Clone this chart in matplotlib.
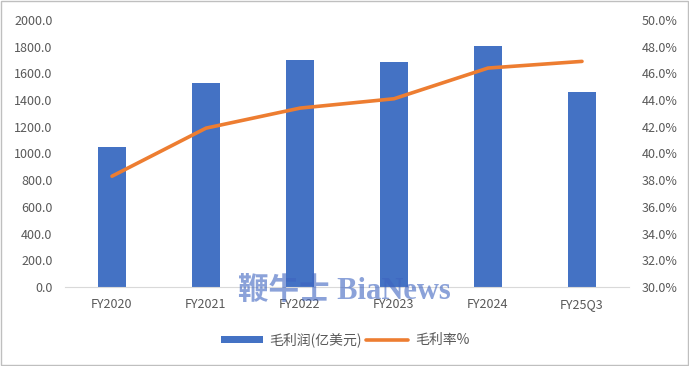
import matplotlib
matplotlib.use("Agg")
import matplotlib.pyplot as plt
from matplotlib.patches import Rectangle

plt.rcParams['font.family'] = ['Noto Sans CJK SC', 'DejaVu Sans']

categories = ["FY2020", "FY2021", "FY2022", "FY2023", "FY2024", "FY25Q3"]
gross_profit = [1045, 1525, 1701, 1687, 1806, 1463]
gross_margin = [38.3, 41.9, 43.4, 44.1, 46.4, 46.9]
left_ticks = [0, 200, 400, 600, 800, 1000, 1200, 1400, 1600, 1800, 2000]
right_ticks = [30, 32, 34, 36, 38, 40, 42, 44, 46, 48, 50]

bar_color = "#4472C4"
line_color = "#ED7D31"
text_color = "#595959"

fig = plt.figure(figsize=(6.89, 3.66), dpi=100)
ax = fig.add_axes([65/689, 1-287/366, (629-65)/689, (287-20)/366])
x = list(range(len(categories)))
ax.bar(x, gross_profit, width=0.29, color=bar_color, label="毛利润(亿美元)", zorder=2)
ax.set_xlim(-0.5, len(categories)-0.5)
ax.set_ylim(0, 2000)
ax.set_yticks(left_ticks)
ax.set_yticklabels([f"{v:.1f}" for v in left_ticks])
ax.set_xticks(x)
ax.set_xticklabels(categories)
for s in ["top", "right", "left"]:
    ax.spines[s].set_visible(False)
ax.spines["bottom"].set_color("#D9D9D9")
ax.tick_params(axis="both", length=0, colors=text_color, labelsize=9)
ax.tick_params(axis="x", pad=8)
ax.tick_params(axis="y", pad=9)

ax2 = ax.twinx()
ax2.plot(x, gross_margin, color=line_color, linewidth=2.6, label="毛利率%", zorder=3,
         solid_capstyle="round", solid_joinstyle="round")
ax2.set_ylim(30, 50)
ax2.set_yticks(right_ticks)
ax2.set_yticklabels([f"{v:.1f}%" for v in right_ticks])
for s in ["top", "right", "left", "bottom"]:
    ax2.spines[s].set_visible(False)
ax2.tick_params(axis="y", length=0, colors=text_color, labelsize=9, pad=9)

h1, l1 = ax.get_legend_handles_labels()
h2, l2 = ax2.get_legend_handles_labels()
fig.legend(h1 + h2, l1 + l2, loc="center", bbox_to_anchor=(345/689, 1-340/366), ncol=2,
           frameon=False, fontsize=10, labelcolor=text_color, handlelength=3.0,
           handleheight=0.5, columnspacing=0.3, handletextpad=0.5)

fig.text(344/689, 1-291/366, "鞭牛士 BiaNews", ha="center", va="center", fontsize=22,
         color="#3E64C0", alpha=0.6, family=["Liberation Serif", "Noto Sans CJK SC"],
         fontweight="bold", zorder=10)

fig.patches.append(Rectangle((0.001, 0.002), 0.997, 0.995, transform=fig.transFigure,
                             fill=False, edgecolor="#BFBFBF", linewidth=1))

fig.savefig("out.png", dpi=100)
